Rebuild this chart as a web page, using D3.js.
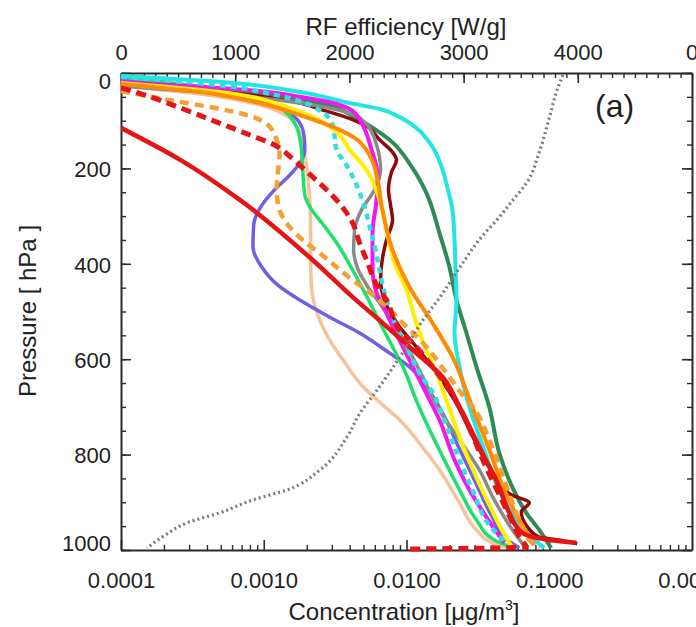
<!DOCTYPE html>
<html>
<head>
<meta charset="utf-8">
<script src="https://cdn.jsdelivr.net/npm/d3@7"></script>
<style>
  body { margin: 0; background: #fff; }
  svg text { font-family: "Liberation Sans", Arial, sans-serif; fill: #222; }
</style>
</head>
<body>
<div id="chart"></div>
<script>
// tick values and labels
const pressureTicks = [0, 200, 400, 600, 800, 1000];
const concTicks = [0.0001, 0.001, 0.01, 0.1];
const concTickLabels = ["0.0001", "0.0010", "0.0100", "0.1000"];
const rfTicks = [0, 1000, 2000, 3000, 4000];
const neighbourTop = "0";
const neighbourBottom = "0.0001";

// profiles: [pressure hPa, concentration ug/m3]
const peach = [[27,1.0e-4],[44,3.6e-4],[67,9.4e-4],[94,1.52e-3],[126,1.79e-3],[161,1.91e-3],[214,2.03e-3],[266,2.1e-3],[329,2.13e-3],[392,2.13e-3],[455,2.17e-3],[507,2.39e-3],[560,2.9e-3],[606,3.68e-3],[654,4.84e-3],[690,6.47e-3],[727,8.94e-3],[784,1.29e-2],[832,1.7e-2],[901,2.35e-2],[958,3.09e-2],[985,3.99e-2],[996,5.25e-2]];
const blue = [[15,1.0e-4],[31,3.6e-4],[57,9.4e-4],[78,1.4e-3],[99,1.73e-3],[130,1.91e-3],[161,1.94e-3],[189,1.79e-3],[214,1.52e-3],[245,1.19e-3],[277,9.7e-4],[319,8.5e-4],[365,8.4e-4],[407,9.7e-4],[444,1.25e-3],[476,1.79e-3],[512,2.9e-3],[545,4.69e-3],[587,7.6e-3],[616,1.05e-2],[658,1.38e-2],[713,1.79e-2],[780,2.28e-2],[853,2.99e-2],[927,3.93e-2],[979,5.08e-2],[996,6.17e-2]];
const brightGreen = [[8,1.0e-4],[29,3.6e-4],[57,1.05e-3],[84,1.45e-3],[113,1.7e-3],[151,1.82e-3],[197,1.87e-3],[256,1.94e-3],[287,2.17e-3],[314,2.55e-3],[356,3.24e-3],[413,4.19e-3],[472,5.34e-3],[522,6.47e-3],[570,7.85e-3],[623,9.68e-3],[686,1.17e-2],[748,1.45e-2],[811,1.84e-2],[874,2.35e-2],[937,3.09e-2],[979,4.12e-2],[996,5.69e-2]];
const darkGreen = [[23,1.0e-4],[40,8.0e-4],[63,2.46e-3],[99,4.69e-3],[140,7.6e-3],[199,1.1e-2],[252,1.38e-2],[335,1.7e-2],[407,2.0e-2],[476,2.24e-2],[545,2.63e-2],[616,3.09e-2],[700,3.8e-2],[797,4.47e-2],[868,5.51e-2],[922,6.9e-2],[958,8.51e-2],[996,0.103]];
const cyanSolid = [[6,1.0e-4],[21,6.1e-4],[40,1.8e-3],[63,4.0e-3],[76,6.6e-3],[92,8.9e-3],[115,1.17e-2],[155,1.52e-2],[203,1.79e-2],[245,1.95e-2],[287,2.1e-2],[350,2.17e-2],[403,2.2e-2],[476,2.24e-2],[545,2.17e-2],[616,2.35e-2],[686,2.67e-2],[790,3.5e-2],[895,4.8e-2],[958,6.7e-2],[996,9.2e-2]];
const maroon = [[23,1.0e-4],[46,8.0e-4],[82,2.9e-3],[109,5.08e-3],[140,6.47e-3],[166,7.98e-3],[182,8.51e-3],[208,7.85e-3],[245,7.48e-3],[277,7.73e-3],[308,7.98e-3],[350,7.24e-3],[388,6.79e-3],[434,6.58e-3],[476,7.01e-3],[532,8.94e-3],[574,1.17e-2],[623,1.57e-2],[686,2.17e-2],[769,2.99e-2],[843,4.12e-2],[884,5.42e-2],[901,7.24e-2],[920,6.37e-2],[948,6.9e-2],[973,8.51e-2],[979,0.117],[987,0.157]];
const gray = [[27,1.0e-4],[40,3.6e-4],[57,1.29e-3],[78,3.4e-3],[103,5.08e-3],[151,6.17e-3],[203,6.58e-3],[245,5.97e-3],[287,4.84e-3],[329,4.33e-3],[371,4.26e-3],[409,4.54e-3],[444,5.25e-3],[491,6.79e-3],[545,8.94e-3],[623,1.23e-2],[707,1.7e-2],[769,2.35e-2],[832,3.24e-2],[895,4.12e-2],[948,5.25e-2],[992,6.68e-2]];
const magenta = [[19,1.0e-4],[29,3.6e-4],[36,8.0e-4],[50,1.79e-3],[63,3.04e-3],[78,4.12e-3],[109,4.92e-3],[161,5.69e-3],[214,6.27e-3],[266,6.17e-3],[335,5.78e-3],[407,5.78e-3],[461,6.17e-3],[486,6.79e-3],[539,8.24e-3],[602,1.05e-2],[665,1.34e-2],[727,1.7e-2],[811,2.17e-2],[874,2.76e-2],[931,3.63e-2],[985,4.84e-2]];
const cyanDashed = [[8,1.0e-4],[29,6.1e-4],[42,1.05e-3],[59,1.79e-3],[78,2.46e-3],[109,3.04e-3],[161,3.24e-3],[193,3.8e-3],[235,4.47e-3],[281,5.08e-3],[329,5.6e-3],[382,6.17e-3],[434,6.68e-3],[482,7.36e-3],[532,8.51e-3],[574,1.0e-2],[629,1.23e-2],[669,1.52e-2],[727,1.84e-2],[811,2.35e-2],[884,2.99e-2],[948,3.8e-2],[990,5.25e-2]];
const yellow = [[21,1.0e-4],[40,4.9e-4],[73,1.52e-3],[99,2.46e-3],[130,3.4e-3],[161,4.0e-3],[203,5.25e-3],[266,6.47e-3],[329,7.24e-3],[398,8.24e-3],[455,1.0e-2],[524,1.17e-2],[581,1.38e-2],[629,1.62e-2],[686,1.9e-2],[790,2.55e-2],[884,3.51e-2],[948,4.47e-2],[992,5.42e-2]];
const orangeSolid = [[23,1.0e-4],[40,3.6e-4],[63,9.4e-4],[88,1.79e-3],[113,3.04e-3],[136,4.33e-3],[172,5.51e-3],[224,6.27e-3],[277,6.68e-3],[371,7.98e-3],[449,1.05e-2],[524,1.52e-2],[595,2.1e-2],[700,2.89e-2],[790,3.8e-2],[874,4.84e-2],[937,6.17e-2],[990,7.85e-2]];
const orangeDashed = [[38,1.0e-4],[57,2.2e-4],[73,4.5e-4],[90,8.0e-4],[109,1.07e-3],[140,1.23e-3],[172,1.29e-3],[214,1.25e-3],[245,1.23e-3],[287,1.29e-3],[323,1.52e-3],[350,1.87e-3],[377,2.46e-3],[407,3.24e-3],[434,4.19e-3],[455,5.25e-3],[486,7.0e-3],[528,9.7e-3],[570,1.34e-2],[623,1.84e-2],[675,2.47e-2],[711,3.09e-2],[769,3.8e-2],[853,4.84e-2],[927,5.97e-2],[979,7.24e-2],[996,8.5e-2]];
const redDashed = [[31,1.0e-4],[50,1.6e-4],[75,2.7e-4],[103,4.7e-4],[130,8.0e-4],[151,1.19e-3],[178,1.57e-3],[203,1.94e-3],[231,2.46e-3],[262,3.14e-3],[287,3.68e-3],[314,4.19e-3],[356,4.69e-3],[392,5.25e-3],[444,6.17e-3],[476,7.24e-3],[539,8.94e-3],[574,1.17e-2],[616,1.52e-2],[665,2.0e-2],[713,2.47e-2],[769,2.99e-2],[832,3.68e-2],[884,4.47e-2],[937,5.42e-2],[979,6.37e-2],[994,6.9e-2],[998,1.0e-2]];
const redSolid = [[115,1.0e-4],[182,2.6e-4],[266,6.8e-4],[392,2.2e-3],[470,4.2e-3],[524,6.8e-3],[587,1.17e-2],[637,1.79e-2],[700,2.35e-2],[797,3.4e-2],[868,4.47e-2],[922,5.25e-2],[964,6.47e-2],[979,0.100],[985,0.155]];

// RF efficiency profile: [pressure hPa, W/g]
const rfEfficiency = [[4,3870],[36,3818],[88,3757],[161,3669],[229,3555],[266,3433],[308,3292],[340,3170],[407,2968],[470,2793],[518,2644],[595,2443],[665,2242],[713,2093],[763,1979],[832,1743],[874,1454],[895,1156],[922,867],[943,578],[969,385],[996,228]];

// drawing order and styles
const profiles = [
  { data: peach, color: "#f7c39c", width: 3.5, dash: null },
  { data: blue, color: "#6e5fe3", width: 3.5, dash: null },
  { data: brightGreen, color: "#1fe06a", width: 3.5, dash: null },
  { data: darkGreen, color: "#2e8b57", width: 4, dash: null },
  { data: cyanSolid, color: "#22e6e6", width: 4, dash: null },
  { data: maroon, color: "#8e0a0a", width: 3.5, dash: null },
  { data: gray, color: "#8a8a8a", width: 3.5, dash: null },
  { data: magenta, color: "#f018f0", width: 4, dash: null },
  { data: cyanDashed, color: "#30dfe6", width: 4.5, dash: "6,5" },
  { data: yellow, color: "#fff000", width: 4, dash: null },
  { data: orangeSolid, color: "#ff8c00", width: 4, dash: null },
  { data: orangeDashed, color: "#f5a033", width: 4.5, dash: "9,6" },
  { data: redDashed, color: "#e51515", width: 5, dash: "10,6" },
  { data: redSolid, color: "#e51515", width: 4.5, dash: null },
];

const plotLeft = 121, plotRight = 692, plotTop = 73, plotBottom = 550;

const svg = d3.select("#chart").append("svg")
  .attr("width", 696)
  .attr("height", 627);

const x = d3.scaleLog().domain([1e-4, 1]).range([plotLeft, plotRight]);
const xTop = d3.scaleLinear().domain([0, 5000]).range([plotLeft, plotRight]);
const y = d3.scaleLinear().domain([0, 1000]).range([plotTop, plotBottom]);

svg.append("clipPath").attr("id", "plot")
  .append("rect")
  .attr("x", plotLeft).attr("y", plotTop - 2)
  .attr("width", plotRight - plotLeft).attr("height", plotBottom - plotTop + 5);

// minor tick positions
const minorConc = [];
for (let e = -4; e < 0; e++) for (let k = 2; k < 10; k++) minorConc.push(k * Math.pow(10, e));
const minorP = d3.range(0, 1001, 50);
const minorRF = d3.range(0, 5001, 100);

const styleAxis = (g) => {
  g.select(".domain").attr("stroke", "#2a2a2a").attr("stroke-width", 2);
  g.selectAll(".tick line").attr("stroke", "#2a2a2a").attr("stroke-width", 1.6);
  g.selectAll(".tick text").attr("font-size", 22).attr("fill", "#222")
    .attr("font-family", "Liberation Sans, Arial, sans-serif");
};
const minorAxis = (axis, transform) =>
  svg.append("g").attr("transform", transform)
    .call(axis.tickSize(-5).tickSizeOuter(0).tickFormat(""))
    .call((g) => g.select(".domain").remove())
    .call((g) => g.selectAll(".tick line").attr("stroke", "#2a2a2a").attr("stroke-width", 1.4));

// minor ticks
minorAxis(d3.axisLeft(y).tickValues(minorP), `translate(${plotLeft},0)`);
minorAxis(d3.axisRight(y).tickValues(minorP), `translate(${plotRight},0)`);
minorAxis(d3.axisBottom(x).tickValues(minorConc), `translate(0,${plotBottom})`);
minorAxis(d3.axisTop(xTop).tickValues(minorRF), `translate(0,${plotTop})`);

// left axis
svg.append("g").attr("transform", `translate(${plotLeft},0)`)
  .call(d3.axisLeft(y).tickValues(pressureTicks).tickSize(-10).tickSizeOuter(0).tickPadding(10)
    .tickFormat(d3.format("d")))
  .call(styleAxis)
  .call((g) => g.selectAll(".tick text")
    .attr("dy", (d) => (d === 0 ? "0.7em" : d === 1000 ? "0.03em" : "0.38em")));

// right axis
svg.append("g").attr("transform", `translate(${plotRight},0)`)
  .call(d3.axisRight(y).tickValues(pressureTicks).tickSize(-10).tickSizeOuter(0).tickFormat(""))
  .call(styleAxis);

// bottom axis
svg.append("g").attr("transform", `translate(0,${plotBottom})`)
  .call(d3.axisBottom(x).tickValues(concTicks).tickSize(-10).tickSizeOuter(0).tickPadding(22)
    .tickFormat((d, i) => concTickLabels[i]))
  .call(styleAxis);

// top axis
svg.append("g").attr("transform", `translate(0,${plotTop})`)
  .call(d3.axisTop(xTop).tickValues(rfTicks).tickSize(-10).tickSizeOuter(0).tickPadding(13)
    .tickFormat(d3.format("d")))
  .call(styleAxis);

// labels of the neighbouring panel, cut by the frame edge as in the source figure
svg.append("text").attr("x", xTop(5000)).attr("y", 60)
  .attr("text-anchor", "middle").attr("font-size", 22).text(neighbourTop);
svg.append("text").attr("x", x(1)).attr("y", 588)
  .attr("text-anchor", "middle").attr("font-size", 22).text(neighbourBottom);

// profiles
const line = d3.line()
  .x((d) => x(d[1]))
  .y((d) => y(d[0]))
  .curve(d3.curveMonotoneY);

const plot = svg.append("g").attr("clip-path", "url(#plot)");

plot.selectAll(".profile")
  .data(profiles)
  .enter()
  .append("path")
  .attr("class", "profile")
  .attr("d", (d) => line(d.data))
  .attr("fill", "none")
  .attr("stroke", (d) => d.color)
  .attr("stroke-width", (d) => d.width)
  .attr("stroke-dasharray", (d) => d.dash)
  .attr("stroke-linejoin", "round");

// RF efficiency (top axis)
plot.append("path")
  .attr("d", d3.line().x((d) => xTop(d[1])).y((d) => y(d[0])).curve(d3.curveMonotoneY)(rfEfficiency))
  .attr("fill", "none")
  .attr("stroke", "#7a7a7a")
  .attr("stroke-width", 3.2)
  .attr("stroke-dasharray", "2,3");

// titles
svg.append("text").attr("x", 406).attr("y", 35).attr("text-anchor", "middle")
  .attr("font-size", 24).text("RF efficiency [W/g]");

const xt = svg.append("text").attr("x", 404).attr("y", 620).attr("text-anchor", "middle")
  .attr("font-size", 24);
xt.append("tspan").text("Concentration [μg/m");
xt.append("tspan").attr("font-size", 14).attr("dy", -10).text("3");
xt.append("tspan").attr("dy", 10).text("]");

svg.append("text").attr("transform", "translate(36,311) rotate(-90)")
  .attr("text-anchor", "middle").attr("font-size", 24).text("Pressure [ hPa ]");

svg.append("text").attr("x", 595).attr("y", 117).attr("font-size", 32).text("(a)");
</script>
</body>
</html>
